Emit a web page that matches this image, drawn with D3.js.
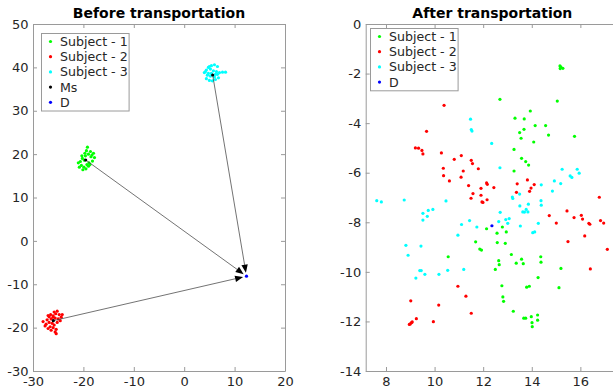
<!DOCTYPE html>
<html>
<head>
<meta charset="utf-8">
<script src="https://cdn.jsdelivr.net/npm/d3@7/dist/d3.min.js"></script>
<style>
  html, body { margin: 0; padding: 0; background: #fff; }
  svg { display: block; font-family: "DejaVu Sans", sans-serif; }
</style>
</head>
<body>
<svg id="chart" width="613" height="391"></svg>
<script>
// ---- Before transportation: three subject clusters, their means (Ms) and target D
const beforeXTicks = [-30, -20, -10, 0, 10, 20];
const beforeYTicks = [-30, -20, -10, 0, 10, 20, 30, 40, 50];

const subject1Before = [
  [-19.2, 21.6], [-18.6, 20.6], [-19.0, 20.0], [-18.3, 19.8], [-17.8, 19.2], [-18.5, 19.4],
  [-20.2, 19.0], [-19.8, 18.6], [-20.6, 18.3], [-21.0, 18.0], [-20.4, 17.4], [-19.9, 17.0],
  [-19.5, 16.6], [-20.1, 16.4], [-19.3, 17.6], [-18.9, 18.0], [-18.2, 18.4], [-19.6, 19.6],
  [-18.0, 20.2], [-19.4, 20.8], [-20.8, 17.0], [-19.0, 17.2], [-20.3, 19.6], [-18.7, 17.6],
  [-19.7, 20.2]
];
const subject2Before = [
  [-28.0, -18.6], [-27.0, -17.2], [-26.5, -17.0], [-26.0, -17.3], [-25.5, -16.8], [-25.2, -16.2],
  [-24.8, -17.0], [-24.4, -17.6], [-25.0, -18.0], [-25.6, -17.8], [-26.4, -18.0], [-27.2, -18.2],
  [-26.8, -18.8], [-27.4, -19.2], [-26.2, -19.0], [-25.8, -19.4], [-26.6, -19.8], [-27.0, -20.2],
  [-26.0, -20.0], [-25.4, -20.4], [-25.6, -21.0], [-25.4, -21.4], [-26.4, -20.6], [-27.6, -19.6],
  [-24.6, -18.4], [-25.2, -18.8], [-26.0, -17.6], [-26.8, -17.5], [-24.2, -17.0], [-25.8, -16.4]
];
const subject3Before = [
  [4.0, 38.8], [4.4, 39.4], [4.8, 40.0], [5.4, 40.4], [6.0, 40.6], [6.6, 40.2], [5.2, 39.6],
  [5.8, 39.2], [6.4, 39.0], [7.0, 38.8], [4.6, 38.2], [5.2, 38.0], [6.0, 37.8], [6.8, 37.6],
  [4.4, 37.4], [5.0, 37.0], [5.6, 36.9], [6.2, 37.2], [6.6, 38.4], [4.2, 39.0], [8.2, 38.9],
  [7.6, 38.9], [5.4, 38.6], [4.8, 38.6], [6.2, 38.4], [5.0, 40.2]
];
const meansBefore = [[-19.55, 18.65], [-25.97, -18.4], [5.65, 38.24]];
const targetD = [12.36, -8.14];

// ---- After transportation
const afterXTicks = [8, 10, 12, 14, 16];
const afterYTicks = [-14, -12, -10, -8, -6, -4, -2, 0];

const subject1After = [
  [15.16, -1.69], [15.2, -1.74], [15.17, -1.80], [15.28, -1.79],
  [12.69, -3.04], [15.05, -3.11], [13.94, -3.51], [13.31, -3.80], [13.69, -3.83], [14.14, -4.10],
  [14.57, -4.10], [13.68, -4.25], [13.50, -4.38], [14.69, -4.48], [15.76, -4.53], [13.56, -4.61],
  [14.08, -4.76], [13.27, -5.06], [13.58, -5.42], [13.75, -5.55], [13.87, -5.69], [13.27, -5.93],
  [12.79, -8.19], [12.57, -8.44], [12.95, -8.39], [12.58, -8.82], [12.91, -8.85], [13.16, -9.30],
  [12.64, -9.55], [12.66, -9.71], [12.50, -9.90], [13.36, -9.65], [13.58, -9.49], [13.65, -9.67],
  [14.37, -9.39], [14.38, -9.61], [15.20, -9.86], [14.26, -10.23], [12.77, -10.56], [13.79, -10.62],
  [13.90, -10.58], [15.12, -10.64], [12.81, -11.01], [12.84, -11.19], [13.24, -11.59], [13.67, -11.87],
  [13.75, -11.87], [13.98, -11.81], [14.24, -11.74], [14.24, -11.95], [14.01, -12.05], [14.02, -12.21],
  [12.14, -8.26], [11.69, -8.79], [11.86, -9.08], [11.93, -9.12], [10.56, -9.39]
];
const subject2After = [
  [10.39, -3.28], [9.67, -4.33], [9.21, -5.0], [9.34, -5.01], [9.48, -5.10], [9.52, -5.24],
  [10.28, -5.20], [11.10, -5.31], [10.81, -5.46], [11.51, -5.50], [11.56, -5.63], [10.36, -5.82],
  [11.80, -5.84], [11.18, -5.93], [10.37, -6.12], [11.09, -6.18], [10.61, -6.33], [12.14, -6.41],
  [12.17, -6.47], [11.40, -6.52], [12.44, -6.60], [11.91, -6.63], [13.40, -6.45], [13.82, -6.29],
  [14.10, -6.48], [13.97, -6.62], [13.91, -6.75], [13.37, -6.79], [11.58, -6.84], [11.91, -6.91],
  [11.50, -7.03], [11.95, -7.18], [11.99, -7.20], [12.16, -7.09], [16.78, -6.99],
  [14.72, -7.73], [15.01, -8.03], [15.45, -7.54], [15.74, -7.81], [16.04, -7.72], [16.09, -7.87],
  [16.35, -8.04], [16.39, -8.08], [16.83, -7.93], [16.96, -8.03], [16.18, -8.55], [15.49, -8.78],
  [17.11, -9.09], [16.41, -9.88],
  [10.96, -10.58], [11.29, -10.98], [11.51, -11.67], [9.02, -11.17], [10.17, -11.34], [9.25, -11.89],
  [9.0, -12.1], [9.05, -12.05], [8.96, -12.12], [9.08, -12.02], [9.95, -12.01]
];
const subject3After = [
  [11.48, -3.84], [11.51, -4.26], [11.54, -4.32], [12.35, -4.82], [12.69, -5.80], [15.25, -5.86],
  [15.87, -5.86], [15.95, -6.02], [15.58, -6.13], [15.65, -6.19], [14.93, -6.33], [15.19, -6.44],
  [14.39, -6.49], [14.85, -6.74], [13.50, -6.86], [13.20, -6.98], [13.22, -7.04],
  [7.62, -7.13], [7.81, -7.18], [8.75, -7.10], [10.47, -7.14], [9.52, -7.64], [9.74, -7.52],
  [9.93, -7.48], [9.70, -7.76], [9.52, -7.91], [11.11, -8.09], [11.44, -7.93], [11.74, -8.19],
  [10.96, -8.52], [8.82, -8.93], [9.44, -8.96], [8.91, -9.33], [9.39, -9.95], [9.45, -9.95],
  [9.60, -10.10], [9.23, -10.25], [10.18, -10.10], [10.54, -9.94], [11.20, -9.90],
  [14.38, -7.13], [14.39, -7.31], [13.86, -7.27], [13.51, -7.34], [13.77, -7.48], [13.63, -7.58],
  [13.70, -7.59], [13.84, -7.58], [12.70, -7.60], [13.07, -7.85], [12.93, -7.89], [12.64, -7.97],
  [13.01, -8.04], [14.27, -8.04], [13.53, -8.15], [14.04, -8.42], [14.12, -8.39]
];

const GREEN = "#00ff00", RED = "#ff0000", CYAN = "#00ffff", BLACK = "#000000", BLUE = "#0000ff";
const FRAME = "#9a9a9a", TEXT = "#262626";

const svg = d3.select("#chart");

function drawAxesBox(x, y, xTicks, yTicks) {
  const [x0, x1] = x.range();
  const [y0, y1] = y.range(); // y0 bottom, y1 top
  const g = svg.append("g");
  const tick = 4;
  const style = sel => {
    sel.selectAll(".domain").attr("stroke", FRAME);
    sel.selectAll(".tick line").attr("stroke", FRAME);
    sel.selectAll(".tick text").attr("fill", TEXT).attr("font-size", 13)
      .attr("font-family", "DejaVu Sans, sans-serif");
  };
  g.append("g").attr("transform", `translate(0,${y0})`)
    .call(d3.axisBottom(x).tickValues(xTicks).tickSizeInner(-tick).tickSizeOuter(0).tickPadding(6).tickFormat(d => String(d)))
    .call(style);
  g.append("g").attr("transform", `translate(0,${y1})`)
    .call(d3.axisTop(x).tickValues(xTicks).tickSizeInner(-tick).tickSizeOuter(0).tickFormat(""))
    .call(style);
  g.append("g").attr("transform", `translate(${x0},0)`)
    .call(d3.axisLeft(y).tickValues(yTicks).tickSizeInner(-tick).tickSizeOuter(0).tickPadding(4.5).tickFormat(d => String(d)))
    .call(style);
  g.append("g").attr("transform", `translate(${x1},0)`)
    .call(d3.axisRight(y).tickValues(yTicks).tickSizeInner(-tick).tickSizeOuter(0).tickFormat(""))
    .call(style);
}

function drawDots(g, data, x, y, color, r) {
  g.selectAll(null).data(data).enter().append("circle")
    .attr("cx", d => x(d[0])).attr("cy", d => y(d[1]))
    .attr("r", r).attr("fill", color);
}

function drawLegend(left, top, entries) {
  const rowH = 15.2, w = 87.6;
  const h = rowH * entries.length + 1.5;
  const g = svg.append("g");
  g.append("rect").attr("x", left + 0.5).attr("y", top + 0.5).attr("width", w).attr("height", h)
    .attr("fill", "#fff").attr("stroke", FRAME);
  entries.forEach((e, i) => {
    const cy = top + 8.5 + i * rowH;
    g.append("circle").attr("cx", left + 9.5).attr("cy", cy).attr("r", 1.6).attr("fill", e.color);
    g.append("text").attr("x", left + 19).attr("y", cy).attr("dy", "0.36em")
      .attr("font-size", 12.6).attr("fill", TEXT).text(e.label);
  });
}

// ---------------- Left panel ----------------
const xL = d3.scaleLinear().domain([-30, 20]).range([33, 285]);
const yL = d3.scaleLinear().domain([-30, 50]).range([371, 24]);

svg.append("text").attr("x", (33 + 285) / 2).attr("y", 17.5).attr("text-anchor", "middle")
  .attr("font-size", 14).attr("font-weight", "bold").attr("fill", "#000").text("Before transportation");

drawAxesBox(xL, yL, beforeXTicks, beforeYTicks);

const gL = svg.append("g");
drawDots(gL, subject1Before, xL, yL, GREEN, 1.6);
drawDots(gL, subject2Before, xL, yL, RED, 1.6);
drawDots(gL, subject3Before, xL, yL, CYAN, 1.6);

// arrows from each subject mean to D
meansBefore.forEach(m => {
  const sx = xL(m[0]), sy = yL(m[1]);
  const tx = xL(targetD[0]), ty = yL(targetD[1]);
  const len = Math.hypot(tx - sx, ty - sy);
  const ux = (tx - sx) / len, uy = (ty - sy) / len;
  const ex = tx - ux * 3.5, ey = ty - uy * 3.5;
  const headL = 8, headW = 3.2;
  const bx = ex - ux * headL, by = ey - uy * headL;
  gL.append("line").attr("x1", sx).attr("y1", sy).attr("x2", bx).attr("y2", by)
    .attr("stroke", "#444").attr("stroke-width", 0.75);
  gL.append("path")
    .attr("d", `M${ex},${ey}L${bx - uy * headW},${by + ux * headW}L${bx + uy * headW},${by - ux * headW}Z`)
    .attr("fill", "#000");
});
drawDots(gL, meansBefore, xL, yL, BLACK, 1.6);
drawDots(gL, [targetD], xL, yL, BLUE, 1.6);

drawLegend(41, 33, [
  { label: "Subject - 1", color: GREEN },
  { label: "Subject - 2", color: RED },
  { label: "Subject - 3", color: CYAN },
  { label: "Ms", color: BLACK },
  { label: "D", color: BLUE }
]);

// ---------------- Right panel ----------------
const xR = d3.scaleLinear().domain([7.165, 17.59]).range([365.7, 619]);
const yR = d3.scaleLinear().domain([-14, 0]).range([371, 24]);

svg.append("text").attr("x", 492.3).attr("y", 17.5).attr("text-anchor", "middle")
  .attr("font-size", 14).attr("font-weight", "bold").attr("fill", "#000").text("After transportation");

drawAxesBox(xR, yR, afterXTicks, afterYTicks);

const gR = svg.append("g");
drawDots(gR, subject1After, xR, yR, GREEN, 1.6);
drawDots(gR, subject2After, xR, yR, RED, 1.6);
drawDots(gR, subject3After, xR, yR, CYAN, 1.6);
drawDots(gR, [targetD], xR, yR, BLUE, 1.6);

drawLegend(370, 28, [
  { label: "Subject - 1", color: GREEN },
  { label: "Subject - 2", color: RED },
  { label: "Subject - 3", color: CYAN },
  { label: "D", color: BLUE }
]);
</script>
</body>
</html>
